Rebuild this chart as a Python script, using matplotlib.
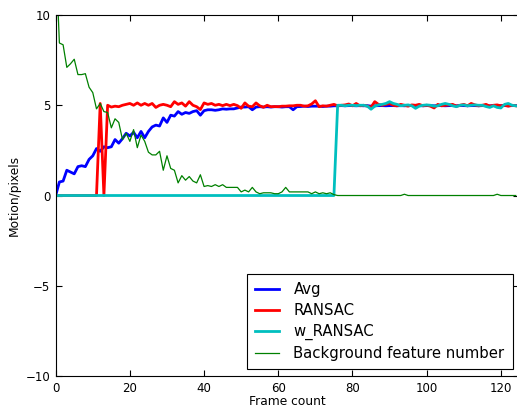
import numpy as np
import matplotlib
matplotlib.use('Agg')
import matplotlib.pyplot as plt

frames = np.arange(125)

avg = [0.0, 0.75, 0.8, 1.4, 1.3, 1.2, 1.6, 1.65, 1.6, 2.0,
       2.2, 2.6, 2.45, 2.7, 2.65, 2.7, 3.1, 2.9, 3.15, 3.45,
       3.3, 3.5, 3.2, 3.55, 3.2, 3.55, 3.8, 3.9, 3.85, 4.3,
       4.05, 4.45, 4.4, 4.65, 4.5, 4.6, 4.55, 4.65, 4.7, 4.45,
       4.7, 4.75, 4.75, 4.72, 4.75, 4.8, 4.78, 4.8, 4.8, 4.85,
       4.9, 4.9, 4.92, 4.75, 4.9, 4.92, 4.9, 4.92, 4.9, 4.92,
       4.92, 4.9, 4.92, 4.92, 4.75, 4.92, 4.93, 4.95, 4.93, 4.95,
       4.95, 4.95, 4.93, 4.95, 4.95, 4.97, 4.97, 4.98, 4.97, 4.98,
       4.98, 4.97, 4.98, 4.97, 4.98, 4.95, 4.97, 4.98, 4.98, 4.97,
       4.98, 4.98, 4.97, 4.98, 4.97, 4.98, 4.98, 4.97, 4.98, 4.97,
       4.98, 4.98, 4.97, 4.98, 4.98, 4.97, 4.98, 4.98, 4.97, 4.98,
       4.98, 4.97, 4.98, 4.98, 4.97, 4.98, 4.98, 4.97, 4.98, 4.97,
       4.98, 4.98, 4.97, 4.98, 4.98]

ransac = [0.0, 0.0, 0.0, 0.0, 0.0, 0.0, 0.0, 0.0, 0.0, 0.0,
          0.0, 0.0, 5.1, 0.0, 5.0, 4.9, 4.95, 4.92, 5.0, 5.05,
          5.1, 5.0, 5.13, 5.0, 5.1, 5.0, 5.1, 4.88, 5.0, 5.05,
          5.0, 4.92, 5.2, 5.05, 5.13, 4.95, 5.2, 5.0, 4.92, 4.76,
          5.13, 5.05, 5.1, 5.0, 5.05, 4.98, 5.05, 4.98, 5.05, 4.98,
          4.83, 5.13, 4.95, 4.92, 5.13, 4.97, 4.89, 5.0, 4.92, 4.93,
          4.92, 4.95, 4.95, 4.97, 4.97, 5.0, 5.0, 4.95, 4.97, 5.07,
          5.25, 4.92, 4.97, 4.95, 5.0, 5.05, 4.97, 5.0, 5.02, 5.07,
          4.97, 5.1, 4.97, 5.0, 4.95, 4.89, 5.2, 5.05, 5.0, 5.05,
          5.1, 5.0, 4.97, 5.05, 5.0, 4.95, 5.02, 5.0, 5.05, 4.97,
          5.0, 4.95, 4.85, 5.05, 4.97, 5.0, 5.02, 5.05, 4.95, 5.0,
          5.05, 4.97, 5.1, 5.02, 4.97, 5.0, 5.05, 4.95, 5.0, 5.02,
          4.97, 5.0, 4.95, 5.0, 4.97]

w_ransac = [0.0] * 76 + [
    5.0, 5.0, 4.97, 5.0, 5.0, 4.98, 5.0, 5.0, 4.95, 4.78,
    4.95, 5.02, 5.05, 5.1, 5.2, 5.1, 5.05, 4.97, 5.0, 5.02,
    4.97, 4.83, 4.95, 5.0, 5.02, 5.0, 4.95, 4.97, 5.05, 5.1,
    5.05, 4.97, 4.92, 5.0, 5.02, 4.97, 5.0, 5.02, 5.0, 5.0,
    4.93, 4.88, 4.97, 4.88, 4.85, 5.05, 5.1, 5.0, 4.97]

bg_features = [13.5, 8.45, 8.35, 7.1, 7.3, 7.55, 6.7, 6.7, 6.75, 6.0,
               5.7, 4.8, 5.1, 4.65, 4.6, 3.75, 4.25, 4.05, 3.1, 3.45,
               3.0, 3.65, 2.65, 3.35, 3.0, 2.4, 2.25, 2.25, 2.45, 1.4,
               2.2, 1.5, 1.4, 0.7, 1.1, 0.85, 1.05, 0.8, 0.7, 1.15,
               0.5, 0.55, 0.5, 0.6, 0.5, 0.6, 0.45, 0.45, 0.45, 0.45,
               0.2, 0.3, 0.2, 0.45, 0.2, 0.1, 0.15, 0.15, 0.15, 0.1,
               0.1, 0.2, 0.45, 0.2, 0.2, 0.2, 0.2, 0.2, 0.2, 0.1,
               0.2, 0.1, 0.15, 0.1, 0.15, 0.05, 0.0, 0.0, 0.0, 0.0,
               0.0, 0.0, 0.0, 0.0, 0.0, 0.0, 0.0, 0.0, 0.0, 0.0,
               0.0, 0.0, 0.0, 0.0, 0.07, 0.0, 0.0, 0.0, 0.0, 0.0,
               0.0, 0.0, 0.0, 0.0, 0.0, 0.0, 0.0, 0.0, 0.0, 0.0,
               0.0, 0.0, 0.0, 0.0, 0.0, 0.0, 0.0, 0.0, 0.0, 0.07,
               0.0, 0.0, 0.0, 0.0, 0.0]

fig = plt.figure(figsize=(5.17, 4.08), dpi=100)
ax = fig.add_axes([0.1077, 0.0784, 0.897, 0.8848])

ax.plot(frames, avg, color='b', lw=2, label='Avg')
ax.plot(frames, ransac, color='r', lw=2, label='RANSAC')
ax.plot(frames, w_ransac, color='c', lw=2, label='w_RANSAC')
ax.plot(frames, bg_features, color='g', lw=0.9, label='Background feature number')

ax.set_xlim(0, 125)
ax.set_ylim(-10, 10)
ax.set_xticks([0, 20, 40, 60, 80, 100, 120])
ax.set_yticks([-10, -5, 0, 5, 10])
ax.tick_params(direction='in', top=True, right=True, length=4, labelsize=8.5, pad=4)
ax.set_xlabel('Frame count', fontsize=8.8, labelpad=0)
ax.set_ylabel('Motion/pixels', fontsize=8.8, labelpad=3)

leg = ax.legend(loc='lower right', fontsize=10.7, fancybox=False, framealpha=1,
                edgecolor='black', handlelength=1.6, handletextpad=1.0,
                labelspacing=0.4, borderpad=0.55, borderaxespad=0.45)
leg.get_frame().set_linewidth(0.8)

fig.savefig('out.png', dpi=100)
